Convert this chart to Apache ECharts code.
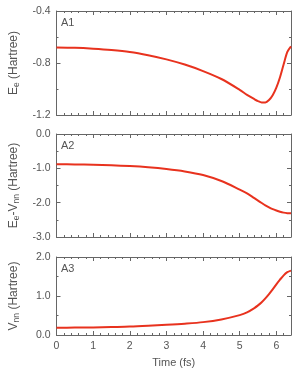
<!DOCTYPE html>
<html><head><meta charset="utf-8">
<script src="https://cdn.jsdelivr.net/npm/echarts@6/dist/echarts.min.js"></script>
<style>html,body{margin:0;padding:0;background:#fff}#c{width:294px;height:369px}</style>
</head><body><div id="c"></div>
<script>
const time = [0, 0.5, 1, 1.5, 2, 2.5, 3, 3.5, 4, 4.5, 5, 5.2, 5.4, 5.5, 5.6, 5.7, 5.8, 5.9, 6.0, 6.1, 6.2, 6.3, 6.4];
const eE = [-0.68, -0.683, -0.69, -0.70, -0.715, -0.74, -0.772, -0.812, -0.862, -0.923, -1.006, -1.045, -1.078, -1.093, -1.103, -1.103, -1.085, -1.048, -0.99, -0.91, -0.81, -0.715, -0.672];
const eEminusVnn = [-0.88, -0.885, -0.895, -0.91, -0.935, -0.97, -1.02, -1.09, -1.195, -1.37, -1.62, -1.73, -1.87, -1.94, -2.01, -2.08, -2.14, -2.19, -2.23, -2.265, -2.29, -2.305, -2.31];
const vnn = [0.185, 0.19, 0.195, 0.205, 0.215, 0.235, 0.26, 0.29, 0.33, 0.40, 0.51, 0.58, 0.69, 0.76, 0.84, 0.94, 1.05, 1.17, 1.30, 1.42, 1.53, 1.61, 1.65];
const panelLabels = ['A1', 'A2', 'A3'];
const yMins = [-1.2, -3, 0];
const yMaxs = [-0.4, 0, 2];
const yIntervals = [0.4, 1, 1];
const yDigits = [1, 1, 1];
const yNames = ['{n|E}{s|e}{n| (Hartree)}', '{n|E}{s|e}{n|-V}{s|nn}{n| (Hartree)}', '{n|V}{s|nn}{n| (Hartree)}'];
const xName = 'Time (fs)';
const series = [eE, eEminusVnn, vnn];

const frame = '#666';
const txt = '#555';
const font = 'Liberation Sans, Arial, sans-serif';
const grids = [
  {left: 54, right: 3, top: 11, height: 104},
  {left: 54, right: 3, top: 134, height: 103},
  {left: 54, right: 3, top: 257, height: 78}
];
const xAxes = [], yAxes = [], ser = [], graphics = [];
for (let i = 0; i < 3; i++) {
  const last = i === 2;
  xAxes.push({
    type: 'value', gridIndex: i, min: 0, max: 6.4, interval: 1, position: 'bottom',
    name: last ? xName : '', nameLocation: 'middle', nameGap: 22,
    nameTextStyle: {color: txt, fontSize: 11, fontFamily: font},
    axisLine: {show: true, onZero: false, lineStyle: {color: frame, width: 1}},
    axisTick: {show: true, inside: true, length: 4, lineStyle: {color: frame}},
    minorTick: {show: true, splitNumber: 5, length: 2, lineStyle: {color: frame}},
    axisLabel: {show: last, color: txt, fontSize: 10.5, fontFamily: font, margin: 6, showMaxLabel: false},
    splitLine: {show: false}, minorSplitLine: {show: false}
  });
  xAxes.push({
    type: 'value', gridIndex: i, min: 0, max: 6.4, interval: 1, position: 'top',
    axisLine: {show: true, onZero: false, lineStyle: {color: frame, width: 1}},
    axisTick: {show: true, inside: true, length: 4, lineStyle: {color: frame}},
    minorTick: {show: true, splitNumber: 5, length: 2, lineStyle: {color: frame}},
    axisLabel: {show: false}, splitLine: {show: false}
  });
  yAxes.push({
    type: 'value', gridIndex: i, min: yMins[i], max: yMaxs[i], interval: yIntervals[i], position: 'left',
    name: yNames[i], nameLocation: 'middle', nameGap: 35, nameRotate: 90,
    nameTextStyle: {color: txt, fontSize: 12, fontFamily: font,
      rich: {n: {fontSize: 12, color: txt, fontFamily: font, lineHeight: 15, verticalAlign: 'middle'},
             s: {fontSize: 8.5, color: txt, fontFamily: font, lineHeight: 15, verticalAlign: 'bottom', padding: [4, 0, 0, 0]}}},
    axisLine: {show: true, onZero: false, lineStyle: {color: frame, width: 1}},
    axisTick: {show: true, inside: true, length: 4, lineStyle: {color: frame}},
    minorTick: {show: true, splitNumber: 2, length: 2, lineStyle: {color: frame}},
    axisLabel: {color: txt, fontSize: 10.5, fontFamily: font, margin: 6,
      formatter: (v) => v.toFixed(yDigits[i])},
    splitLine: {show: false}
  });
  yAxes.push({
    type: 'value', gridIndex: i, min: yMins[i], max: yMaxs[i], interval: yIntervals[i], position: 'right',
    axisLine: {show: true, onZero: false, lineStyle: {color: frame, width: 1}},
    axisTick: {show: true, inside: true, length: 4, lineStyle: {color: frame}},
    minorTick: {show: true, splitNumber: 2, length: 2, lineStyle: {color: frame}},
    axisLabel: {show: false}, splitLine: {show: false}
  });
  ser.push({
    type: 'line', xAxisIndex: 2 * i, yAxisIndex: 2 * i, smooth: 0.3, symbol: 'none',
    lineStyle: {color: '#e8321e', width: 2},
    data: time.map((t, k) => [t, series[i][k]])
  });
  graphics.push({type: 'text', left: 61, top: grids[i].top + 6,
    style: {text: panelLabels[i], fill: txt, fontSize: 11, fontFamily: font}});
}
const chart = echarts.init(document.getElementById('c'), null, {renderer: 'canvas'});
chart.setOption({
  animation: false, backgroundColor: '#fff',
  grid: grids, xAxis: xAxes, yAxis: yAxes, series: ser, graphic: graphics
});
</script></body></html>
